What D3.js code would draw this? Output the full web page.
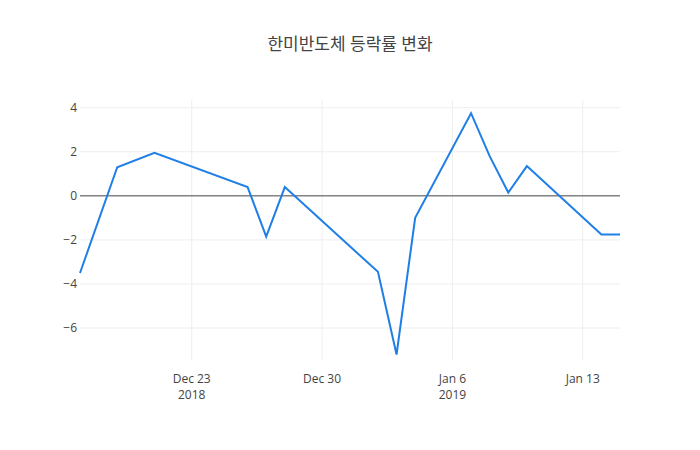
<!DOCTYPE html>
<html><head><meta charset="utf-8">
<script src="https://cdn.jsdelivr.net/npm/d3@7"></script>
<style>body{margin:0;background:#fff}text{font-family:"Open Sans","Noto Sans CJK KR",sans-serif}</style>
</head><body><svg id="c" width="700" height="450"></svg>
<script>
const dates=["2018-12-17","2018-12-19","2018-12-21","2018-12-26","2018-12-27","2018-12-28","2019-01-02","2019-01-03","2019-01-04","2019-01-07","2019-01-08","2019-01-09","2019-01-10","2019-01-14","2019-01-15"];
const values=[-3.5,1.3,1.95,0.4,-1.85,0.4,-3.45,-7.2,-1.0,3.75,1.8,0.15,1.35,-1.75,-1.75];
const yTicks=[-6,-4,-2,0,2,4];
const xTicks=["2018-12-23","2018-12-30","2019-01-06","2019-01-13"];
const title="한미반도체 등락률 변화";
const p=d3.timeParse("%Y-%m-%d");
const svg=d3.select("#c");
const L=80,R=620,T=100,B=360;
const x=d3.scaleTime().domain([p(dates[0]),p(dates[dates.length-1])]).range([L,R]);
const y=d3.scaleLinear().domain([-7.45,4.35]).range([B,T]);
const g=svg.append("g");
yTicks.forEach(t=>{g.append("line").attr("x1",L).attr("x2",R).attr("y1",y(t)).attr("y2",y(t)).attr("stroke",t===0?"#444":"#eee").attr("stroke-width",1);
g.append("text").attr("x",L-3).attr("y",y(t)+4).attr("text-anchor","end").attr("font-size",12).attr("fill","#444").text(t<0?"−"+(-t):t);});
xTicks.forEach((t,i)=>{const xx=x(p(t));g.insert("line",":first-child").attr("x1",xx).attr("x2",xx).attr("y1",T).attr("y2",B).attr("stroke","#eee");
const d=p(t);g.append("text").attr("x",xx).attr("y",B+23).attr("text-anchor","middle").attr("font-size",12).attr("fill","#444").text(d3.timeFormat("%b %-d")(d));
if(i===0||i===2)g.append("text").attr("x",xx).attr("y",B+39).attr("text-anchor","middle").attr("font-size",12).attr("fill","#444").text(d3.timeFormat("%Y")(d));});
g.append("path").datum(dates.map((d,i)=>[p(d),values[i]])).attr("fill","none").attr("stroke","#1f7fe6").attr("stroke-width",2)
.attr("d",d3.line().x(d=>x(d[0])).y(d=>y(d[1])));
svg.append("text").attr("x",350).attr("y",50).attr("text-anchor","middle").attr("font-size",17).attr("fill","#444").text(title);
</script></body></html>
